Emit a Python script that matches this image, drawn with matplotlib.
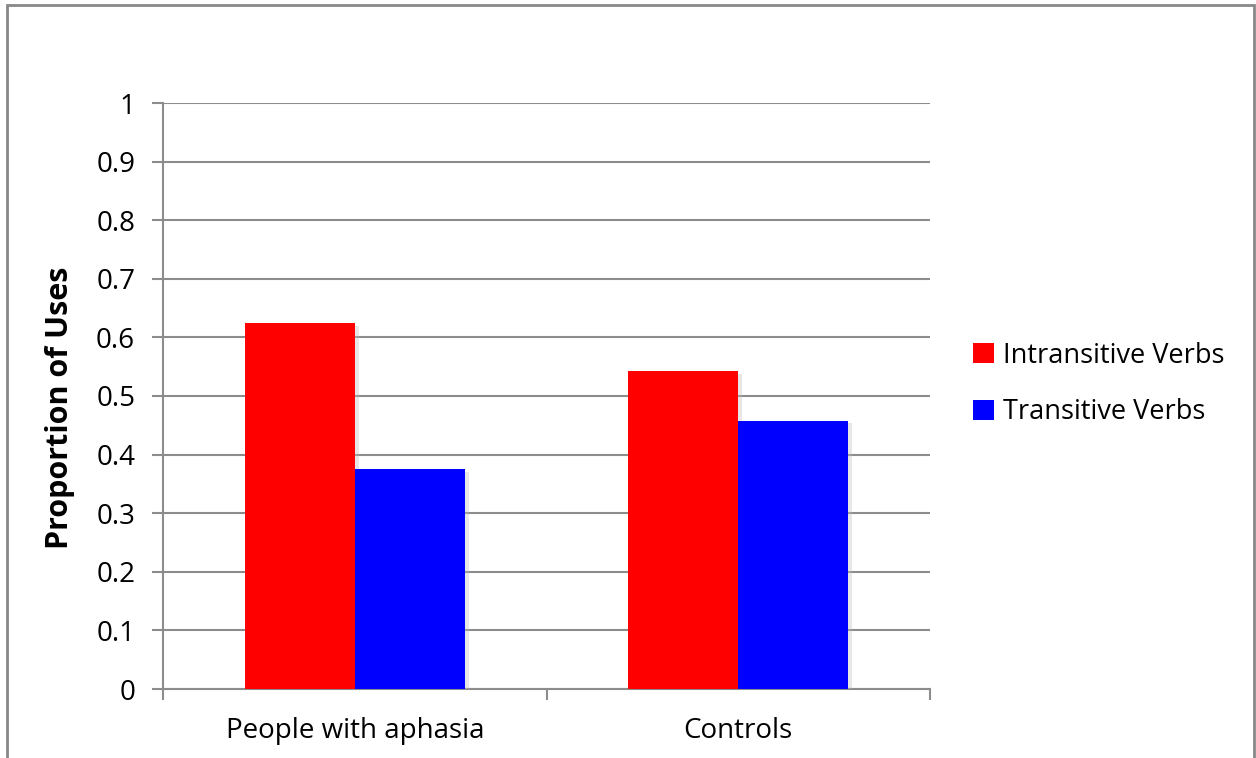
import numpy as np
import matplotlib.pyplot as plt
from matplotlib.patches import Rectangle, Patch
from matplotlib import patheffects

groups = ['People with aphasia', 'Controls']
intransitive = [0.625, 0.542]
transitive = [0.375, 0.458]
series_names = ['Intransitive Verbs', 'Transitive Verbs']
yticks = [0, 0.1, 0.2, 0.3, 0.4, 0.5, 0.6, 0.7, 0.8, 0.9, 1]
ytick_labels = ['0', '0.1', '0.2', '0.3', '0.4', '0.5', '0.6', '0.7', '0.8', '0.9', '1']

plt.rcParams['font.family'] = ['Open Sans', 'DejaVu Sans']

fig = plt.figure(figsize=(12.56, 7.58), dpi=100)
ax = fig.add_axes([163 / 1256, 1 - 689 / 758, (930 - 163) / 1256, (689 - 103) / 758])

# outer chart border (grey frame, bottom cut off)
fig.patches.append(Rectangle((7 / 1256, -0.02), (1254 - 7) / 1256, 1 - 5 / 758 + 0.02,
                             transform=fig.transFigure, fill=False,
                             edgecolor='#888888', linewidth=2))

x = np.arange(len(groups))
w = 0.287
shadow = [patheffects.SimplePatchShadow(offset=(3, -2), shadow_rgbFace='#bbbbbb', alpha=0.35),
          patheffects.Normal()]
b1 = ax.bar(x - w / 2, intransitive, w, color='#FF0000', zorder=3)
b2 = ax.bar(x + w / 2, transitive, w, color='#0000FF', zorder=3)
for b in list(b1) + list(b2):
    b.set_path_effects(shadow)

ax.set_xlim(-0.5, 1.5)
ax.set_ylim(0, 1)
ax.set_yticks(yticks)
ax.set_yticklabels(ytick_labels)
ax.yaxis.grid(True, color='#8c8c8c', linewidth=1.5, zorder=0)
ax.set_axisbelow(True)

ax.set_xticks(x)
ax.set_xticklabels(groups)
ax.set_xticks([-0.5, 0.5, 1.5], minor=True)
ax.tick_params(axis='x', which='major', length=0, pad=20, labelsize=20)
ax.tick_params(axis='x', which='minor', length=8, width=1.5, color='#8c8c8c')
ax.tick_params(axis='y', length=8, width=1.5, color='#8c8c8c', pad=12, labelsize=20)

for s in ['top', 'right']:
    ax.spines[s].set_visible(False)
for s in ['left', 'bottom']:
    ax.spines[s].set_color('#8c8c8c')
    ax.spines[s].set_linewidth(1.5)

ax.set_ylabel('Proportion of Uses', fontsize=22, fontweight='bold')
ax.yaxis.set_label_coords(-0.115, 0.48)

handles = [Patch(facecolor='#FF0000'), Patch(facecolor='#0000FF')]
fig.legend(handles=handles, labels=series_names, loc='center left',
           bbox_to_anchor=(949 / 1256, 1 - 384 / 758),
           frameon=False, fontsize=19.5, handlelength=0.75, handleheight=0.75,
           handletextpad=0.35, labelspacing=1.05)

fig.savefig('out.png', dpi=100)
